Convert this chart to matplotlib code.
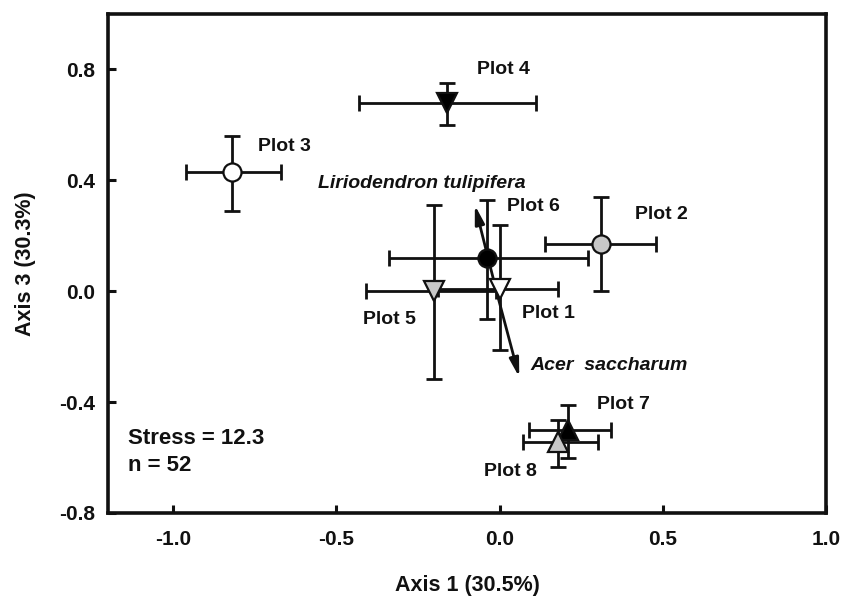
import matplotlib
matplotlib.use("Agg")
import matplotlib.pyplot as plt

plt.rcParams['font.family'] = ['Liberation Sans', 'DejaVu Sans']
plt.rcParams['font.weight'] = 'bold'

# Data
plots = ["Plot 1", "Plot 2", "Plot 3", "Plot 4", "Plot 5", "Plot 6", "Plot 7", "Plot 8"]
x = [0.00, 0.31, -0.82, -0.16, -0.20, -0.04, 0.21, 0.18]
y = [0.008, 0.17, 0.43, 0.68, 0.00, 0.12, -0.50, -0.545]
x_lo = [-0.19, 0.14, -0.96, -0.43, -0.41, -0.34, 0.09, 0.07]
x_hi = [0.18, 0.48, -0.67, 0.11, -0.01, 0.27, 0.34, 0.30]
y_lo = [-0.213, 0.00, 0.29, 0.60, -0.317, -0.10, -0.60, -0.635]
y_hi = [0.238, 0.34, 0.56, 0.75, 0.31, 0.328, -0.41, -0.465]
markers = ["v", "o", "o", "v", "v", "o", "^", "^"]
fills = ["white", "#c8c8c8", "white", "black", "#c8c8c8", "black", "black", "#c8c8c8"]

label_x = [0.068, 0.414, -0.739, -0.070, -0.419, 0.021, 0.297, -0.049]
label_y = [-0.080, 0.278, 0.521, 0.800, -0.104, 0.305, -0.410, -0.650]

species = ["Liriodendron tulipifera", "Acer  saccharum"]
sp_x = [-0.076, 0.060]
sp_y = [0.310, -0.310]
sp_label_x = [-0.555, 0.094]
sp_label_y = [0.388, -0.269]

fig = plt.figure(figsize=(8.43, 6.0), dpi=100)
ax = fig.add_axes([0.128, 0.145, 0.852, 0.832])

for i in range(len(plots)):
    ax.errorbar(x[i], y[i],
                xerr=[[x[i] - x_lo[i]], [x_hi[i] - x[i]]],
                yerr=[[y[i] - y_lo[i]], [y_hi[i] - y[i]]],
                fmt="none", ecolor="#111111", elinewidth=2.0, capsize=5.5, capthick=2.0, zorder=2)

for sx, sy in zip(sp_x, sp_y):
    ax.annotate("", xy=(sx, sy), xytext=(-0.01, 0.0),
                arrowprops=dict(arrowstyle="-|>,head_length=1.1,head_width=0.28",
                                color="#111111", lw=2.0, shrinkA=0, shrinkB=0),
                zorder=3)

for i in range(len(plots)):
    ms = 13 if markers[i] == "o" else 14
    ax.plot(x[i], y[i], marker=markers[i], markersize=ms, markerfacecolor=fills[i],
            markeredgecolor="#111111", markeredgewidth=1.6, linestyle="none", zorder=4)
    ax.text(label_x[i], label_y[i], plots[i], fontsize=14, fontweight="bold",
            ha="left", va="center", color="#111111")

for i in range(len(species)):
    ax.text(sp_label_x[i], sp_label_y[i], species[i], fontsize=14, fontweight="bold",
            fontstyle="italic", ha="left", va="center", color="#111111")

ax.text(-1.138, -0.533, "Stress = 12.3", fontsize=16, fontweight="bold", ha="left", va="center",
        color="#111111")
ax.text(-1.138, -0.627, "n = 52", fontsize=16, fontweight="bold", ha="left", va="center",
        color="#111111")

ax.set_xlim(-1.2, 1.0)
ax.set_ylim(-0.8, 1.0)
ax.set_xticks([-1.0, -0.5, 0.0, 0.5, 1.0])
ax.set_xticklabels(["-1.0", "-0.5", "0.0", "0.5", "1.0"])
ax.set_yticks([-0.8, -0.4, 0.0, 0.4, 0.8])
ax.set_yticklabels(["-0.8", "-0.4", "0.0", "0.4", "0.8"])
ax.tick_params(direction="in", length=6, width=2.2, labelsize=15, colors="#111111")
ax.tick_params(axis="x", pad=12)
ax.tick_params(axis="y", pad=9)
for lab in ax.get_xticklabels() + ax.get_yticklabels():
    lab.set_fontweight("bold")
for s in ax.spines.values():
    s.set_linewidth(2.6)
    s.set_color("#111111")

ax.set_xlabel("Axis 1 (30.5%)", fontsize=15.5, fontweight="bold", labelpad=19, color="#111111")
ax.set_ylabel("Axis 3 (30.3%)", fontsize=15.5, fontweight="bold", labelpad=17, color="#111111")

fig.savefig("out.png", dpi=100)
